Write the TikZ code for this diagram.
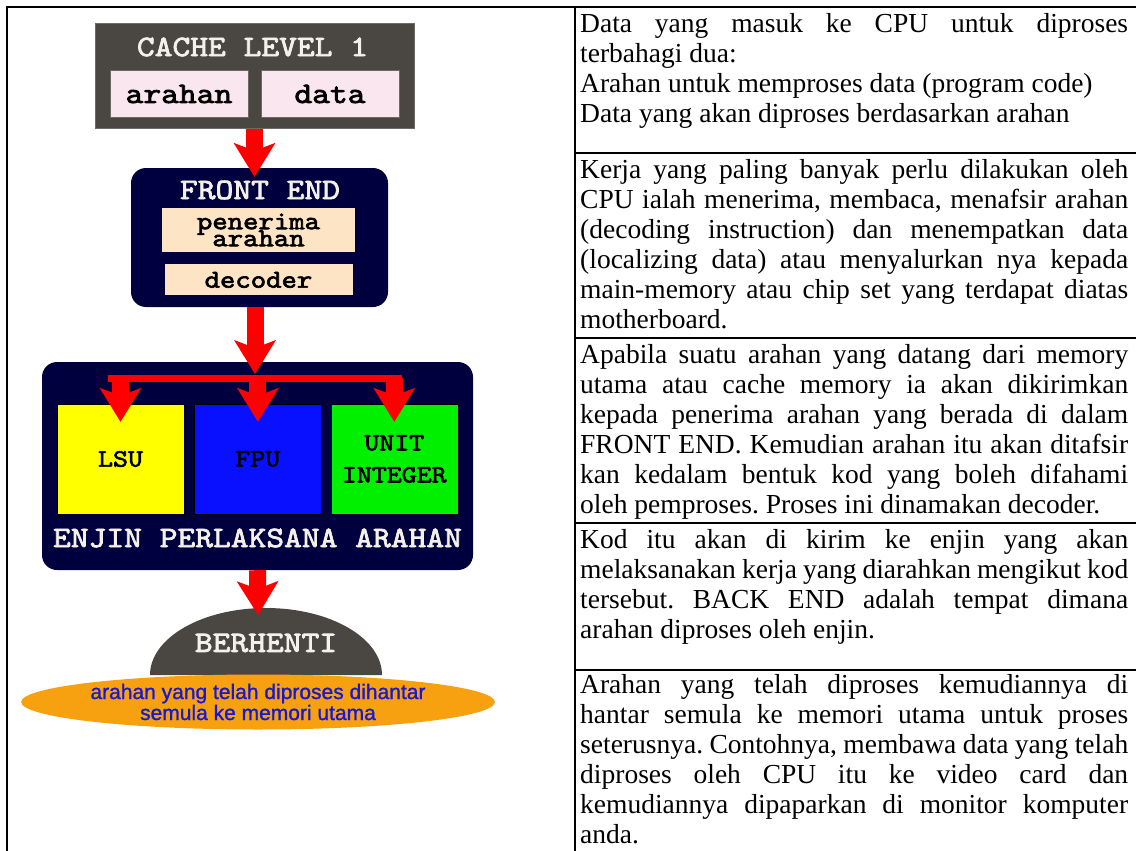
\documentclass[tikz,border=0pt]{standalone}
\usepackage{fontspec}
\setmainfont{Liberation Serif}
\newfontfamily\diagfont[FakeBold=2.5,FakeStretch=1.14]{lmmono10-regular.otf}
\newfontfamily\notefont[FakeBold=1.2]{Liberation Sans}
\usetikzlibrary{arrows.meta,positioning,shapes.geometric}

\definecolor{cachegray}{RGB}{74,70,66}
\definecolor{cacheedge}{RGB}{110,105,100}
\definecolor{cachepink}{RGB}{250,230,238}
\definecolor{navyfill}{RGB}{0,0,62}
\definecolor{cream}{RGB}{252,228,196}
\definecolor{arrowred}{RGB}{255,0,0}
\definecolor{unityellow}{RGB}{255,255,0}
\definecolor{unitblue}{RGB}{8,16,255}
\definecolor{unitgreen}{RGB}{0,240,0}
\definecolor{ovalorange}{RGB}{247,161,16}
\definecolor{notetext}{RGB}{24,24,210}
\definecolor{offwhite}{RGB}{244,240,234}

\newcommand{\jl}[1]{\makebox[548pt][s]{#1}}
\newcommand{\tightlines}{\lineskiplimit-50pt\relax}

\begin{document}
\begin{tikzpicture}[x=1pt, y=-1pt,
  rule/.style={line width=2pt},
  darkbox/.style={fill=cachegray, draw=cacheedge, line width=1pt, inner sep=0pt},
  pinkbox/.style={fill=cachepink, draw=cacheedge, line width=1pt, inner sep=0pt,
    minimum width=138pt, minimum height=46pt, font=\diagfont\fontsize{29.7}{30}\selectfont},
  enginebox/.style={fill=navyfill, rounded corners=15pt, inner sep=0pt},
  creambox/.style={fill=cream, inner sep=0pt, align=center,
    font=\diagfont\fontsize{25.7}{17}\selectfont\tightlines},
  unitbox/.style={draw=black, inner sep=0pt, minimum width=127pt, minimum height=110pt,
    align=center, font=\diagfont\fontsize{25}{32}\selectfont},
  title/.style={text=offwhite, inner sep=0pt, font=\diagfont\fontsize{29.7}{30}\selectfont},
  oval/.style={ellipse, fill=ovalorange, inner sep=0pt, minimum width=433pt, minimum height=55pt,
    align=center, text=notetext, font=\notefont\fontsize{21}{21}\selectfont},
  bigarrow/.style={draw=arrowred, line width=17pt,
    -{Stealth[length=34pt, width=42pt, inset=8pt, line width=0pt]}},
  busline/.style={draw=arrowred, line width=7pt},
  rowtext/.style={anchor=north west, inner sep=0pt, align=left,
    font=\fontsize{27.5}{30}\selectfont\frenchspacing}
]
\useasboundingbox (0,0) rectangle (1136,851);

% table
\draw[rule] (7,851) -- (7,7) -- (1136,7);
\draw[rule] (575,7) -- (575,851);
\foreach \y in {153,338,523,670}
  \draw[rule] (575,\y) -- (1136,\y);

% cache level 1
\node[darkbox, minimum width=319pt, minimum height=104pt] (cache) at (254.5,76) {};
\node[title] (cachetitle) at (252.5,47) {CACHE LEVEL 1};
\node[pinkbox] (arahan) at (179,94) {arahan};
\node[pinkbox, right=12pt of arahan] (data) {data};

% front end
\node[enginebox, minimum width=257pt, minimum height=139pt] (fe) at (259.5,237.5) {};
\node[title] (fetitle) at (260,190) {FRONT END};
\node[creambox, minimum width=193pt, minimum height=44pt] (penerima) at (258.5,230) {penerima\\arahan};
\node[creambox, minimum width=188pt, minimum height=31pt, below=12pt of penerima] (decoder) {decoder};

% enjin perlaksana arahan
\node[enginebox, minimum width=431pt, minimum height=208pt] (enjin) at (257.5,466) {};
\node[unitbox, fill=unityellow] (lsu) at (120.5,459) {LSU};
\node[unitbox, fill=unitblue, right=10pt of lsu] (fpu) {FPU};
\node[unitbox, fill=unitgreen, right=9pt of fpu] (int) {UNIT\\INTEGER};
\node[title] (enjintitle) at (257.5,538) {ENJIN PERLAKSANA ARAHAN};
\coordinate (bus) at (255,378);

% berhenti
\fill[cachegray] (150,675) arc[start angle=180, end angle=360, x radius=116, y radius=67] -- cycle;
\coordinate (stoptop) at (258,608);
\node[title] (stop) at (266,643) {BERHENTI};
\node[oval] (note) at (258,702) {arahan yang telah diproses dihantar\\semula ke memori utama};

% arrows
\draw[bigarrow, shorten >=-9pt] (cache.south) -- (cache.south |- fe.north);
\draw[bigarrow, shorten >=4pt] (fe.south -| bus) -- (bus);
\draw[busline, shorten <=-13pt, shorten >=-8pt] (lsu.north |- bus) -- (int.north |- bus);
\foreach \u in {lsu,fpu,int}
  \draw[bigarrow, shorten >=-18pt] (\u.north |- bus) -- (\u.north);
\draw[bigarrow, shorten >=-7pt] (enjin.south) -- (stoptop);

% keterangan
\node[rowtext] (row1) at (580,13) {\jl{Data yang masuk ke CPU untuk diproses}\\
  terbahagi dua:\\
  Arahan untuk memproses data (program code)\\
  Data yang akan diproses berdasarkan arahan};
\node[rowtext] (row2) at (580,159) {\jl{Kerja yang paling banyak perlu dilakukan oleh}\\
  \jl{CPU ialah menerima, membaca, menafsir arahan}\\
  \jl{(decoding instruction) dan menempatkan data}\\
  \jl{(localizing data) atau menyalurkan nya kepada}\\
  \jl{main-memory atau chip set yang terdapat diatas}\\
  motherboard.};
\node[rowtext] (row3) at (580,344) {\jl{Apabila suatu arahan yang datang dari memory}\\
  \jl{utama atau cache memory ia akan dikirimkan}\\
  \jl{kepada penerima arahan yang berada di dalam}\\
  \jl{FRONT END. Kemudian arahan itu akan ditafsir}\\
  \jl{kan kedalam bentuk kod yang boleh difahami}\\
  oleh pemproses. Proses ini dinamakan decoder.};
\node[rowtext] (row4) at (580,529) {\jl{Kod itu akan di kirim ke enjin yang akan}\\
  \jl{melaksanakan kerja yang diarahkan mengikut kod}\\
  \jl{tersebut. BACK END adalah tempat dimana}\\
  arahan diproses oleh enjin.};
\node[rowtext] (row5) at (580,674) {\jl{Arahan yang telah diproses kemudiannya di}\\
  \jl{hantar semula ke memori utama untuk proses}\\
  \jl{seterusnya. Contohnya, membawa data yang telah}\\
  \jl{diproses oleh CPU itu ke video card dan}\\
  \jl{kemudiannya dipaparkan di monitor komputer}\\
  anda.};
\end{tikzpicture}
\end{document}
